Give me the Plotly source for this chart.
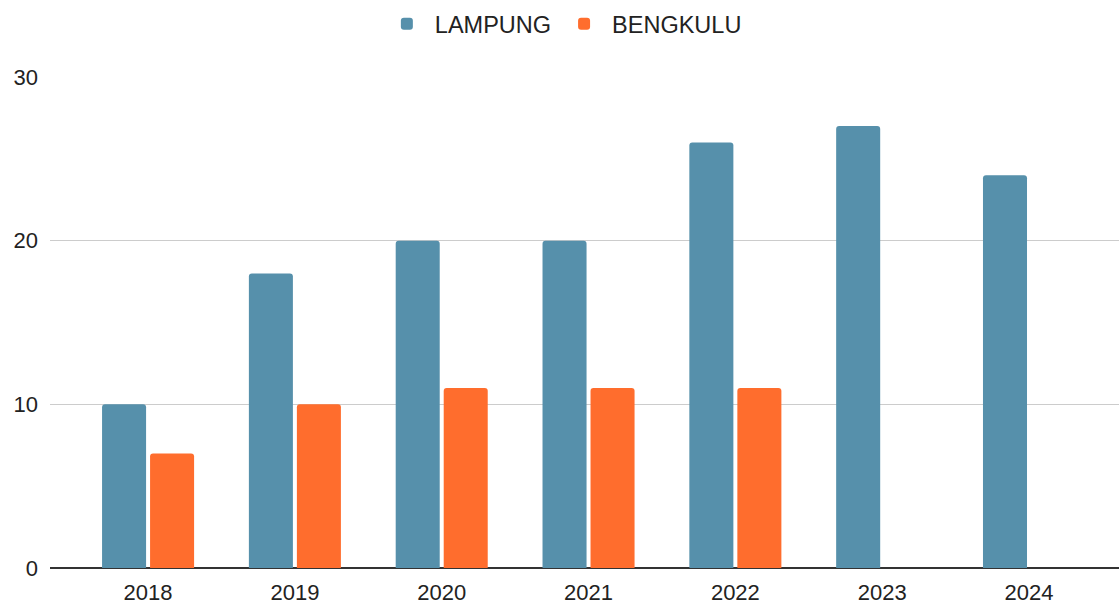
import plotly.graph_objects as go

years = ["2018", "2019", "2020", "2021", "2022", "2023", "2024"]
lampung = [10, 18, 20, 20, 26, 27, 24]
bengkulu = [7, 10, 11, 11, 11, None, None]

fig = go.Figure()
fig.add_trace(go.Bar(name="LAMPUNG", x=years, y=lampung,
                     marker=dict(color="#5690AB", cornerradius=3, line=dict(width=0))))
fig.add_trace(go.Bar(name="BENGKULU", x=years, y=bengkulu,
                     marker=dict(color="#FF6D2D", cornerradius=3, line=dict(width=0))))

fig.update_layout(
    width=1119, height=608,
    margin=dict(l=50, r=0, t=77, b=40, autoexpand=False),
    paper_bgcolor="white", plot_bgcolor="white",
    font=dict(family="Liberation Sans, Arial, sans-serif", size=22, color="#222222"),
    barmode="group", bargap=0.346, bargroupgap=0.083,
    legend=dict(orientation="h", x=0.503, xanchor="center", xref="container",
                y=1.108, yanchor="middle", yref="paper",
                font=dict(size=23.5), itemwidth=46),
    showlegend=True,
)
fig.update_xaxes(range=[-0.668, 6.613], showgrid=False, ticks="", tickfont=dict(size=22),
                 ticklabelstandoff=9)
fig.update_yaxes(range=[0, 30], dtick=10, showgrid=True, gridcolor="#CCCCCC", gridwidth=1,
                 zeroline=True, zerolinecolor="#333333", zerolinewidth=1.5,
                 tickfont=dict(size=22), ticklabelstandoff=11)

fig.write_html("out.html", config={"displayModeBar": False},
               post_script="document.body.style.margin='0';document.body.style.overflow='hidden';")
